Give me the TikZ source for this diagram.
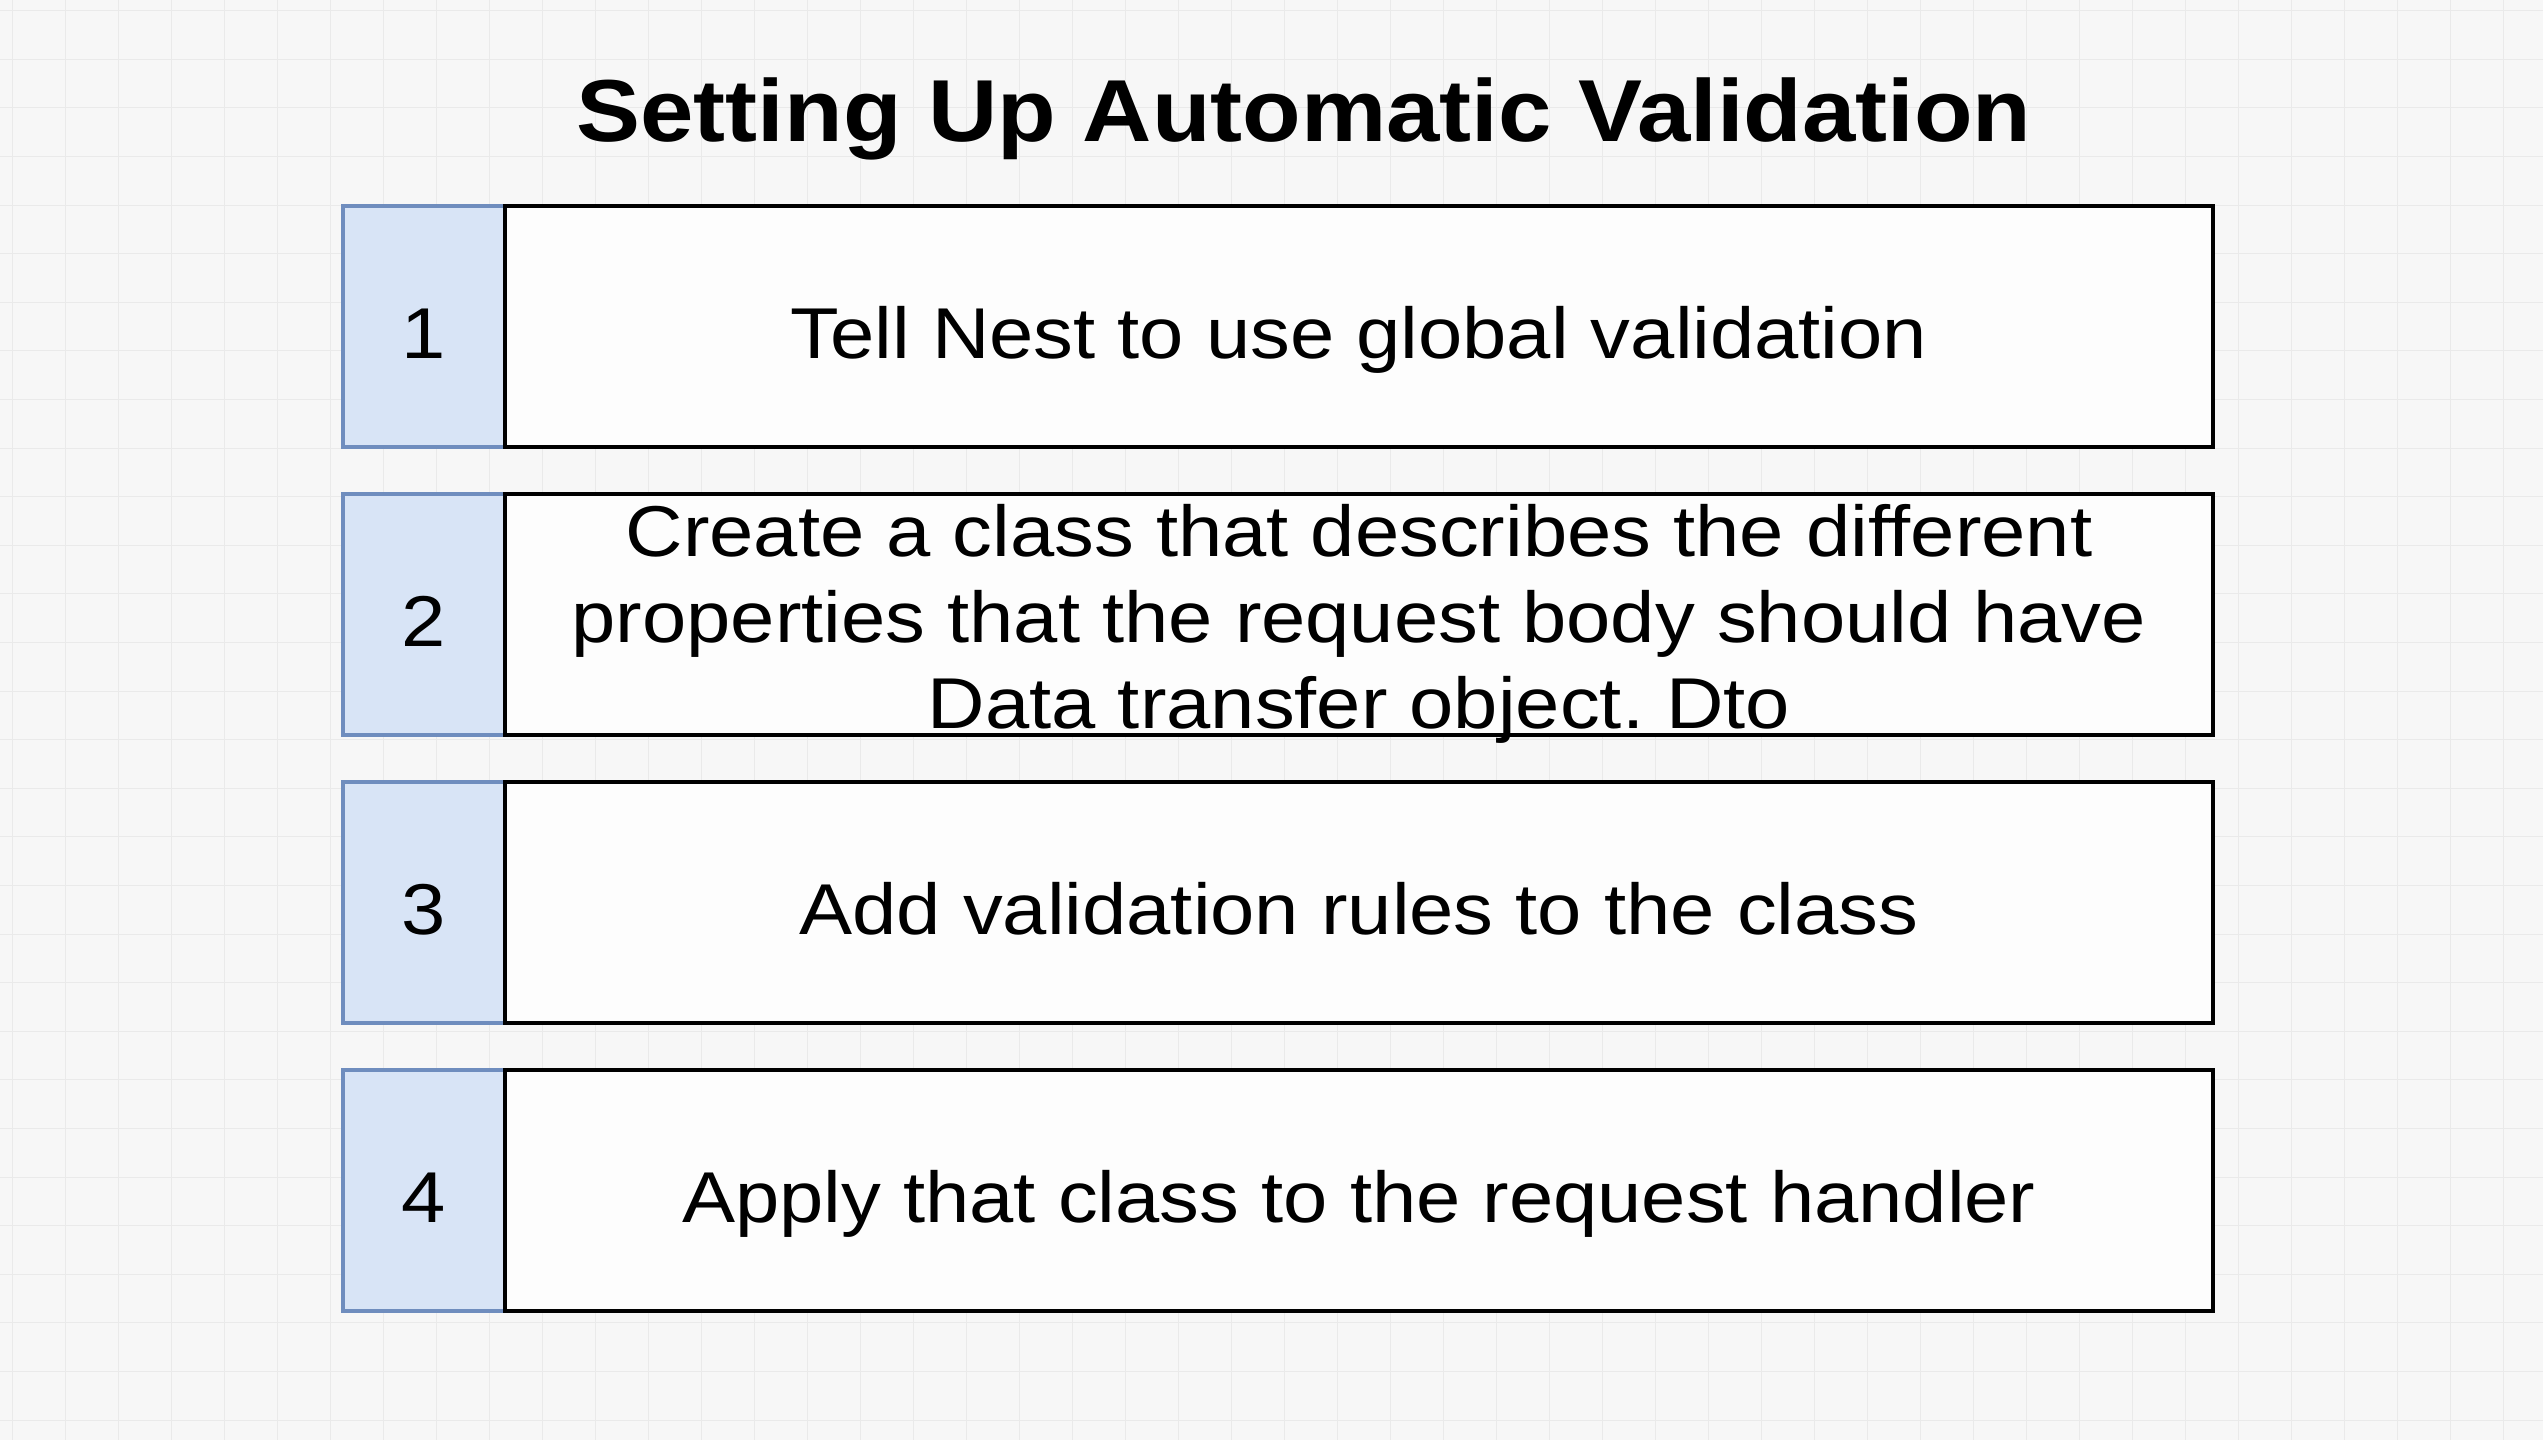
\documentclass[tikz,border=0pt]{standalone}
\usepackage{fontspec}
\usepackage{graphicx}
\setmainfont{Liberation Sans}
\frenchspacing
\definecolor{bgcol}{HTML}{F7F7F7}
\definecolor{gridcol}{HTML}{EAEAEA}
\definecolor{numfill}{HTML}{D8E4F6}
\definecolor{numdraw}{HTML}{6F8DBE}
\definecolor{boxfill}{HTML}{FDFDFD}
\newcommand\hstretch[1]{\scalebox{1.105}[1]{#1}}
\tikzset{
  boxbase/.style={rectangle, inner sep=0pt, minimum height=72.3pt},
  numbox/.style={boxbase, draw=numdraw, fill=numfill, line width=1.1pt,
    minimum width=48.6pt, text height=21.6pt, text depth=2.6pt,
    font=\fontsize{21.6}{26}\selectfont},
  textbox/.style={boxbase, draw=black, fill=boxfill, line width=1.2pt,
    minimum width=512.4pt, text height=21.6pt, text depth=2.6pt,
    font=\fontsize{21.6}{25.8}\selectfont},
  multibox/.style={boxbase, draw=black, fill=boxfill, line width=1.2pt,
    minimum width=512.4pt, align=center,
    font=\fontsize{21.6}{25.8}\selectfont},
  titlestyle/.style={inner sep=0pt, anchor=base, font=\fontsize{26.4}{30}\selectfont\bfseries}
}
\begin{document}
\begin{tikzpicture}[x=0.3pt, y=-0.3pt]
\useasboundingbox (0,0) rectangle (2543,1440);
\fill[bgcol] (0,0) rectangle (2543,1440);
\foreach \i in {0,...,47} {
  \draw[gridcol, line width=0.3pt] ({12+53*\i},0) -- ({12+53*\i},1440);
}
\foreach \j in {0,...,29} {
  \draw[gridcol, line width=0.3pt] (0,{10.6+48.6*\j}) -- (2543,{10.6+48.6*\j});
}
\node[titlestyle] (title) at (1304,141) {\scalebox{1.09}[1]{Setting Up Automatic Validation}};

\node[numbox] (n1) at (424,326.5) {\hstretch{1}};
\node[numbox] (n2) at (424,614.5) {\hstretch{2}};
\node[numbox] (n3) at (424,902.5) {\hstretch{3}};
\node[numbox] (n4) at (424,1190.5) {\hstretch{4}};

\node[textbox] (t1) at (1359,326.5) {\hstretch{Tell Nest to use global validation}};
\node[multibox] (t2) at (1359,614.5) {};
\node[inner sep=0pt, align=center, font=\fontsize{21.6}{25.8}\selectfont] (t2text) at (1359,623.5)
  {\hstretch{Create a class that describes the different}\\\hstretch{properties that the request body should have}\\\hstretch{Data transfer object. Dto}};
\node[textbox] (t3) at (1359,902.5) {\hstretch{Add validation rules to the class}};
\node[textbox] (t4) at (1359,1190.5) {\hstretch{Apply that class to the request handler}};
\end{tikzpicture}
\end{document}
